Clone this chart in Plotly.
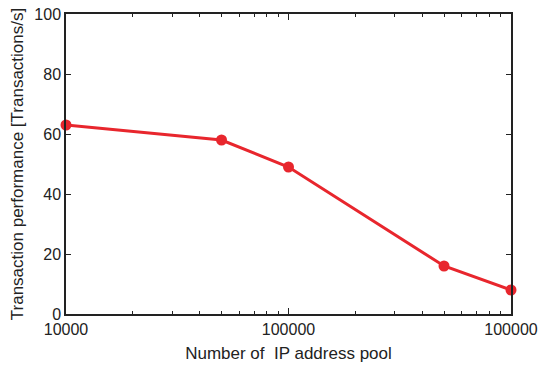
import plotly.graph_objects as go

pool_sizes = [10000, 50000, 100000, 500000, 1000000]
performance = [63, 58, 49, 16, 8]
x_tick_vals = [10000, 100000, 1000000]
x_tick_text = ["10000", "100000", "100000"]
x_minor_vals = [m * 10 ** e for e in (4, 5) for m in range(2, 10)]
y_tick_vals = [0, 20, 40, 60, 80, 100]

red = "#e8262d"
axis_color = "#222222"
text_color = "#222222"

fig = go.Figure()
fig.add_trace(go.Scatter(
    x=pool_sizes, y=performance, mode="lines+markers",
    line=dict(color=red, width=3),
    marker=dict(color=red, size=11),
    showlegend=False, cliponaxis=False,
))

font = dict(family="Liberation Sans, Arial, sans-serif", size=16, color=text_color)

fig.update_layout(
    width=541, height=367,
    margin=dict(l=66, r=30, t=14, b=53),
    plot_bgcolor="white", paper_bgcolor="white",
    font=font,
)
fig.update_xaxes(
    type="log", range=[4, 6], automargin=False,
    tickvals=x_tick_vals, ticktext=x_tick_text,
    ticks="inside", ticklen=6, tickcolor=axis_color,
    minor=dict(tickvals=x_minor_vals, ticks="inside", ticklen=3,
               tickcolor=axis_color, showgrid=False),
    showline=True, linecolor=axis_color, linewidth=1.5, mirror="ticks",
    showgrid=False, zeroline=False,
    title=dict(text="Number of\u00a0 IP address pool", font=dict(size=17, color=text_color), standoff=10),
)
fig.update_yaxes(
    range=[0, 100], tickvals=y_tick_vals, automargin=False,
    ticks="inside", ticklen=5, tickcolor=axis_color,
    showline=True, linecolor=axis_color, linewidth=1.5, mirror="ticks",
    showgrid=False, zeroline=False,
    title=dict(text="Transaction performance [Transactions/s]", font=dict(size=17, color=text_color), standoff=6),
)

fig.write_html("out.html")
